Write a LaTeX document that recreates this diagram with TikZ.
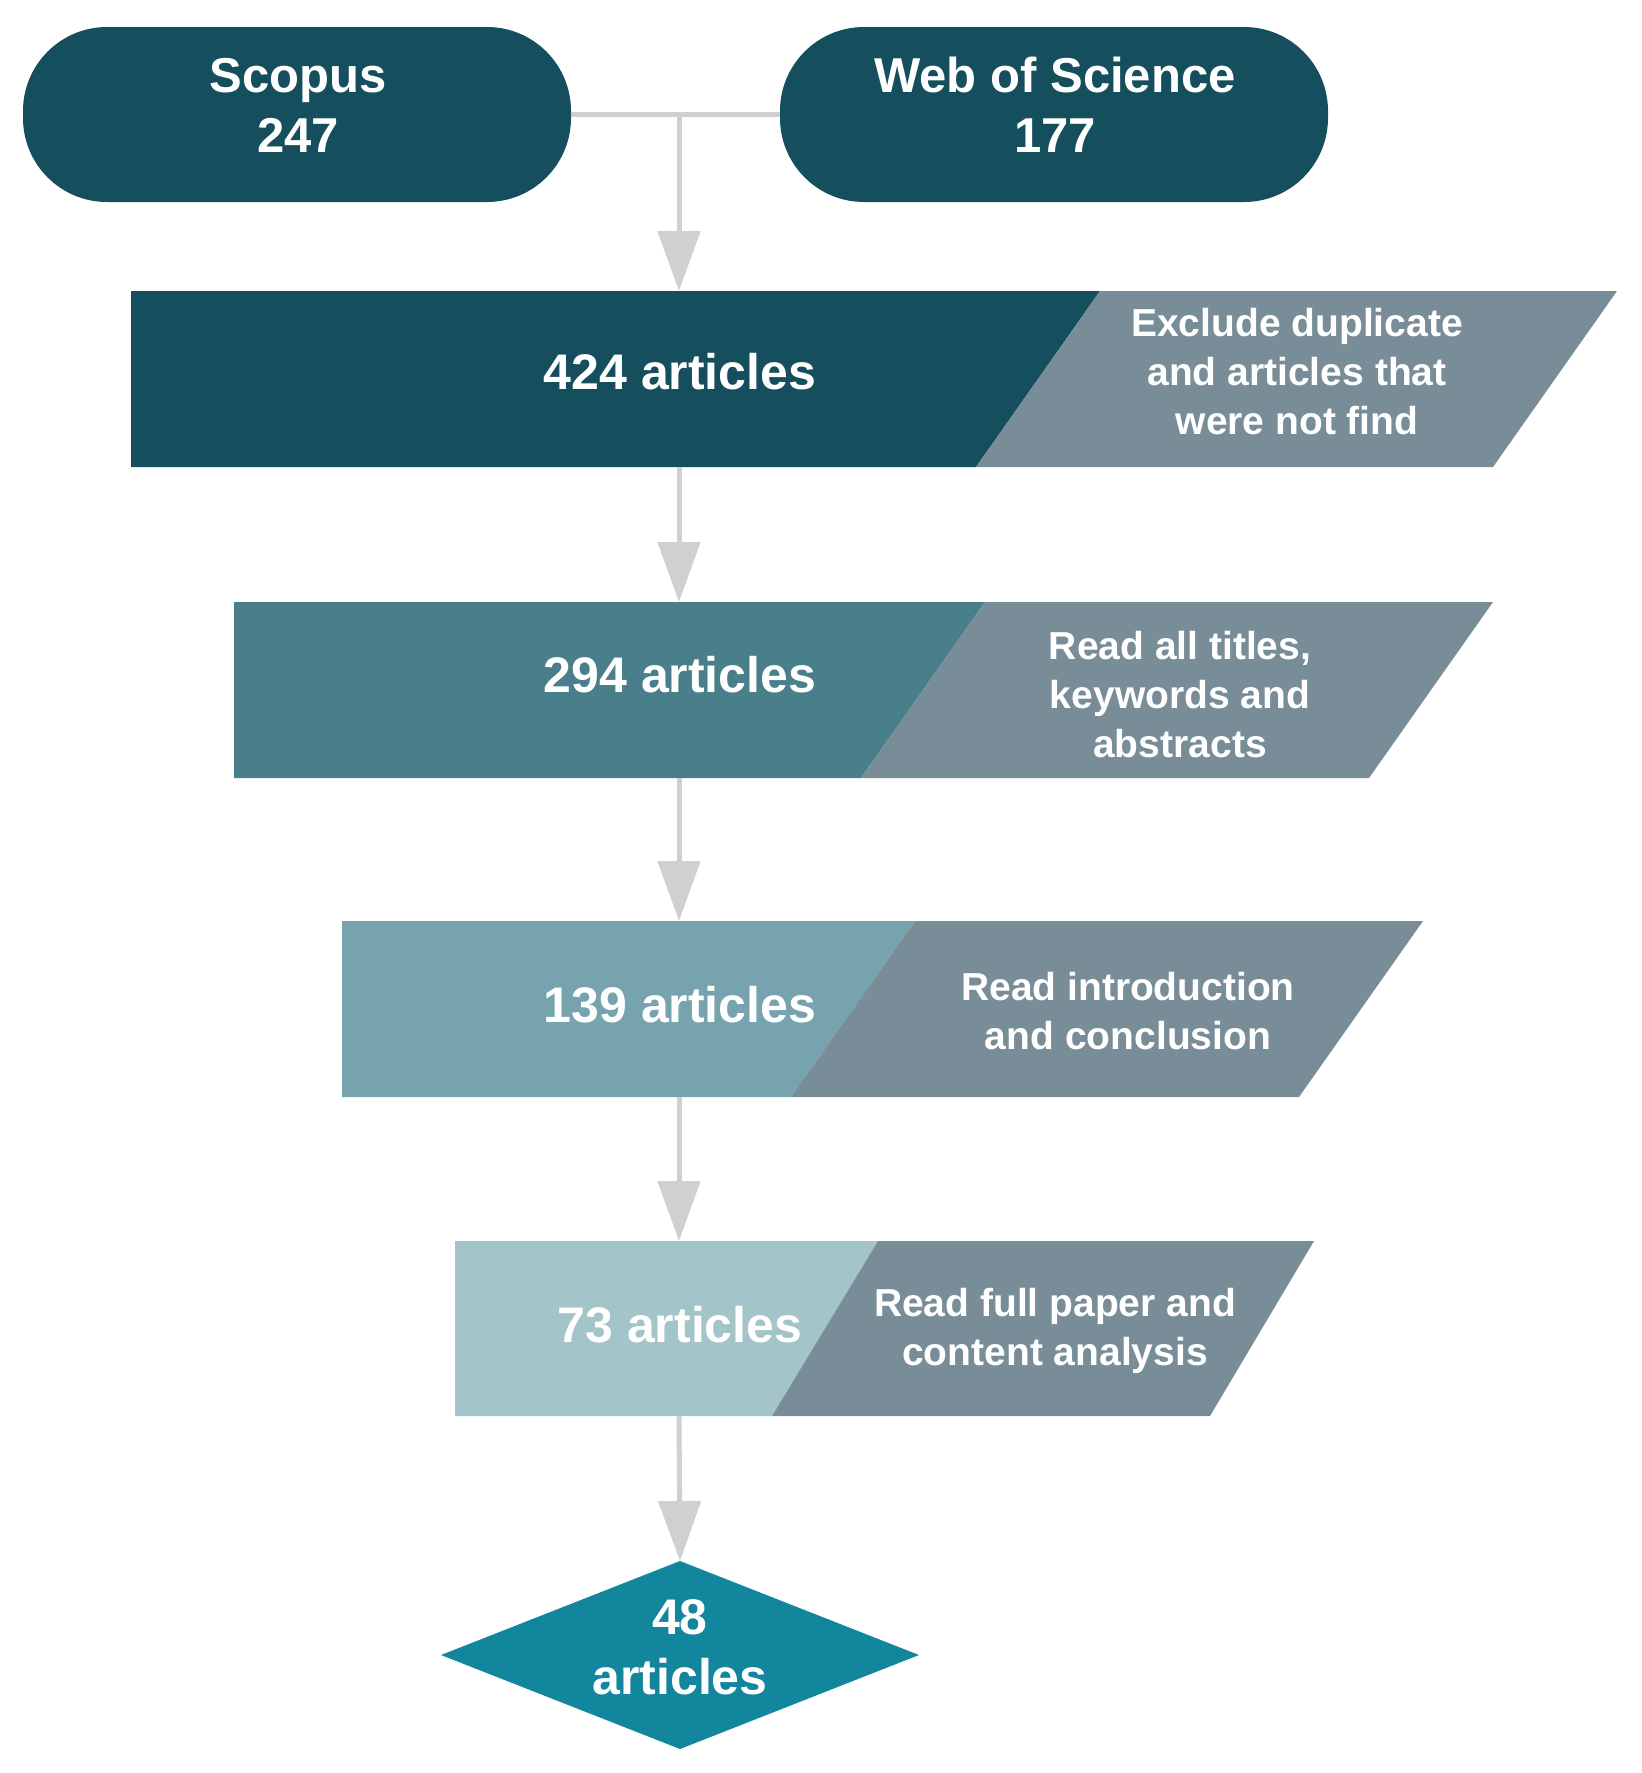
\documentclass[tikz,border=0pt]{standalone}
\usepackage{fontspec}
\setmainfont{Liberation Sans}
\usetikzlibrary{arrows.meta}
\definecolor{cdark}{HTML}{154E5C}
\definecolor{cteal}{HTML}{487F8B}
\definecolor{cmid}{HTML}{77A3AE}
\definecolor{clight}{HTML}{A3C4C9}
\definecolor{cgray}{HTML}{798D98}
\definecolor{cdia}{HTML}{12869D}
\definecolor{carr}{HTML}{D0D0D0}
\tikzset{
  pill/.style={fill=cdark, rounded corners=42pt, minimum width=274pt, minimum height=87.5pt, inner sep=0pt},
  pilltxt/.style={text=white, align=center, inner sep=0pt, font=\fontsize{24.5pt}{30pt}\selectfont\bfseries},
  bigtxt/.style={text=white, align=center, inner sep=0pt, font=\fontsize{25pt}{30pt}\selectfont\bfseries},
  graytxt/.style={text=white, align=center, inner sep=0pt, font=\fontsize{19.5pt}{24.5pt}\selectfont\bfseries},
  conn/.style={draw=carr, line width=2.5pt},
  arr/.style={conn, -{Triangle[width=21pt,length=30pt]}},
}
\begin{document}
\begin{tikzpicture}[x=0.5pt,y=-0.5pt]
\useasboundingbox (0,0) rectangle (1642,1773);
% sources
\node[pill] (scopus) at (297,114.5) {};
\node[pilltxt] (scopusT) at (298,105) {Scopus\\247};
\node[pill] (wos) at (1054,114.5) {};
\node[pilltxt] (wosT) at (1055,105) {Web of Science\\177};
\coordinate (j) at (679,114.5);
% box 1
\fill[cdark] (131,291) -- (1100,291) -- (976,467) -- (131,467) -- cycle;
\fill[cgray] (1100,291) -- (1617,291) -- (1493,467) -- (976,467) -- cycle;
\coordinate (b1t) at (679,291);
\coordinate (b1b) at (679,467);
\node[bigtxt] (t1) at (680,372) {424 articles};
\node[graytxt] (g1) at (1297,372) {Exclude duplicate\\and articles that\\were not find};
% box 2
\fill[cteal] (234,602) -- (985,602) -- (861,778) -- (234,778) -- cycle;
\fill[cgray] (985,602) -- (1493,602) -- (1369,778) -- (861,778) -- cycle;
\coordinate (b2t) at (679,602);
\coordinate (b2b) at (679,778);
\node[bigtxt] (t2) at (680,675) {294 articles};
\node[graytxt] (g2) at (1180,695) {Read all titles,\\keywords and\\abstracts};
% box 3
\fill[cmid] (342,921) -- (915,921) -- (791,1097) -- (342,1097) -- cycle;
\fill[cgray] (915,921) -- (1423,921) -- (1299,1097) -- (791,1097) -- cycle;
\coordinate (b3t) at (679,921);
\coordinate (b3b) at (679,1097);
\node[bigtxt] (t3) at (680,1005) {139 articles};
\node[graytxt] (g3) at (1128,1011) {Read introduction\\and conclusion};
% box 4
\fill[clight] (455,1241) -- (878,1241) -- (772,1416) -- (455,1416) -- cycle;
\fill[cgray] (878,1241) -- (1314,1241) -- (1210,1416) -- (772,1416) -- cycle;
\coordinate (b4t) at (679,1241);
\coordinate (b4b) at (679,1416);
\node[bigtxt] (t4) at (680,1325) {73 articles};
\node[graytxt] (g4) at (1055,1331) {Read full paper and\\content analysis};
% diamond
\fill[cdia] (441,1655) -- (680,1561) -- (919,1655) -- (680,1749) -- cycle;
\coordinate (dt) at (680,1561);
\node[bigtxt] (t5) at (680,1647) {48\\articles};
% connectors
\draw[conn] (scopus.east) -- (wos.west);
\draw[arr] (j) -- (b1t);
\draw[arr] (b1b) -- (b2t);
\draw[arr] (b2b) -- (b3t);
\draw[arr] (b3b) -- (b4t);
\draw[arr] (b4b) -- (dt);
\end{tikzpicture}
\end{document}
